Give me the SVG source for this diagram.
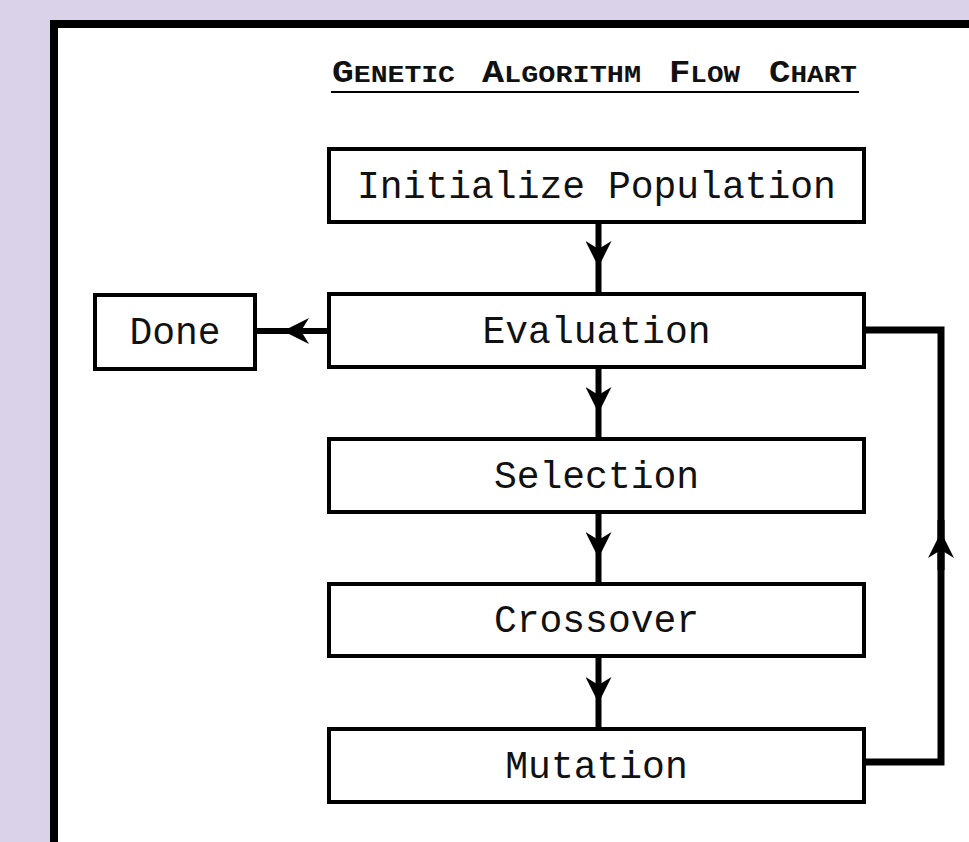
<svg xmlns="http://www.w3.org/2000/svg" width="969" height="842" viewBox="0 0 969 842">
  <style>
    .box { fill: #ffffff; stroke: #000000; stroke-width: 4; }
    .label { font-family: "Liberation Mono", "Courier New", monospace; font-size: 38px; fill: #111111; text-anchor: middle; }
    .title { font-family: "Liberation Mono", "Courier New", monospace; font-weight: bold; fill: #111111; }
    .conn { fill: none; stroke: #000000; stroke-width: 6; }
    .loop { fill: none; stroke: #000000; stroke-width: 7; }
  </style>
  <defs>
    <marker id="arrow" viewBox="0 0 26 26" refX="26" refY="13" markerWidth="26" markerHeight="26" markerUnits="userSpaceOnUse" orient="auto">
      <path d="M0 0 L26 13 L0 26 L8 13 Z" fill="#000000"/>
    </marker>
  </defs>
  <rect x="0" y="0" width="969" height="842" fill="#d9d2e9"/>
  <rect x="54" y="24" width="1000" height="1000" fill="#ffffff" stroke="#000000" stroke-width="8"/>

  <g id="title">
    <text class="title" y="82" textLength="123" lengthAdjust="spacingAndGlyphs">
      <tspan x="332" font-size="31">G</tspan><tspan font-size="24">ENETIC</tspan>
    </text>
    <text class="title" y="82" textLength="159" lengthAdjust="spacingAndGlyphs">
      <tspan x="482" font-size="31">A</tspan><tspan font-size="24">LGORITHM</tspan>
    </text>
    <text class="title" y="82" textLength="71" lengthAdjust="spacingAndGlyphs">
      <tspan x="669" font-size="31">F</tspan><tspan font-size="24">LOW</tspan>
    </text>
    <text class="title" y="82" textLength="88" lengthAdjust="spacingAndGlyphs">
      <tspan x="769" font-size="31">C</tspan><tspan font-size="24">HART</tspan>
    </text>
    <line x1="331" y1="92" x2="859" y2="92" stroke="#000000" stroke-width="2"/>
  </g>

  <g id="connectors">
    <path class="conn" d="M598.5 222 L598.5 267 L598.5 294" marker-mid="url(#arrow)"/>
    <path class="conn" d="M598.5 367 L598.5 413 L598.5 439" marker-mid="url(#arrow)"/>
    <path class="conn" d="M598.5 512 L598.5 558 L598.5 584" marker-mid="url(#arrow)"/>
    <path class="conn" d="M598.5 656 L598.5 703 L598.5 729" marker-mid="url(#arrow)"/>
    <path class="conn" d="M329 331 L283 331 L255 331" marker-mid="url(#arrow)"/>
    <path class="loop" d="M864 762 L941 762 L941 330 L864 330"/>
    <path class="loop" d="M941 570 L941 532 L941 520" marker-mid="url(#arrow)"/>
  </g>

  <g id="node-init">
    <rect class="box" x="329" y="149" width="535" height="73"/>
    <text class="label" x="596.5" y="198">Initialize Population</text>
  </g>
  <g id="node-evaluation">
    <rect class="box" x="329" y="294" width="535" height="73"/>
    <text class="label" x="596.5" y="343">Evaluation</text>
  </g>
  <g id="node-selection">
    <rect class="box" x="329" y="439" width="535" height="73"/>
    <text class="label" x="596.5" y="488">Selection</text>
  </g>
  <g id="node-crossover">
    <rect class="box" x="329" y="584" width="535" height="72"/>
    <text class="label" x="596.5" y="632">Crossover</text>
  </g>
  <g id="node-mutation">
    <rect class="box" x="329" y="729" width="535" height="73"/>
    <text class="label" x="596.5" y="778">Mutation</text>
  </g>
  <g id="node-done">
    <rect class="box" x="95" y="295" width="160" height="74"/>
    <text class="label" x="175" y="344">Done</text>
  </g>
</svg>
